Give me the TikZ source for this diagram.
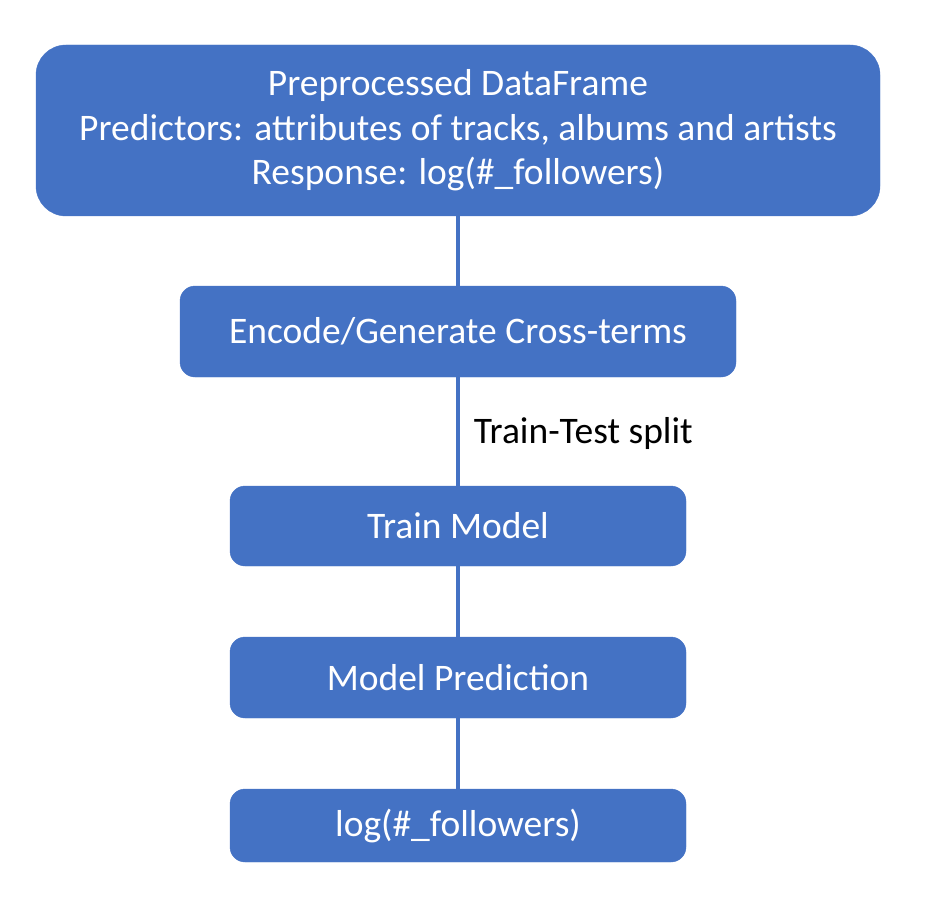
\documentclass[tikz,border=0pt]{standalone}
\usepackage{fontspec}
\setmainfont{Carlito}
\usepackage{xcolor}
\definecolor{boxblue}{HTML}{4472C4}

\begin{document}
\begin{tikzpicture}[x=1pt,y=1pt,yscale=-1,
    box/.style={fill=boxblue, draw=boxblue, text=white, rounded corners=15pt, inner sep=0pt, align=center, font=\fontsize{37.5}{44.5}\selectfont},
    link/.style={draw=boxblue, line width=3.5pt}]
        \useasboundingbox (0,0) rectangle (933,901); %set diagram to the size of the reference

        %Shape: Rounded Rect [id:top]
        \node [box, rounded corners=30pt, minimum width=844pt, minimum height=171pt] (frame) at (458,130.5) {Preprocessed DataFrame\\Predictors: attributes of tracks, albums and artists\\Response: log(\#\_followers)};
        %Shape: Rounded Rect [id:encode]
        \node [box, minimum width=556pt, minimum height=91pt] (encode) at (458,331.5) {Encode/Generate Cross-terms};
        %Shape: Rounded Rect [id:train]
        \node [box, minimum width=456pt, minimum height=80pt] (train) at (458,526) {Train Model};
        %Shape: Rounded Rect [id:predict]
        \node [box, minimum width=456pt, minimum height=81pt] (predict) at (458,677.5) {Model Prediction};
        %Shape: Rounded Rect [id:response]
        \node [box, minimum width=456pt, minimum height=73pt] (response) at (458,825.5) {log(\#\_followers)};

        %Straight Lines
        \draw [link] (frame) -- (encode);
        \draw [link] (encode) -- (train) node [midway, anchor=west, inner sep=0pt, xshift=14pt, yshift=-2pt, font=\fontsize{37.5}{40}\selectfont] (split) {Train-Test split};
        \draw [link] (train) -- (predict);
        \draw [link] (predict) -- (response);

\end{tikzpicture}
\end{document}
